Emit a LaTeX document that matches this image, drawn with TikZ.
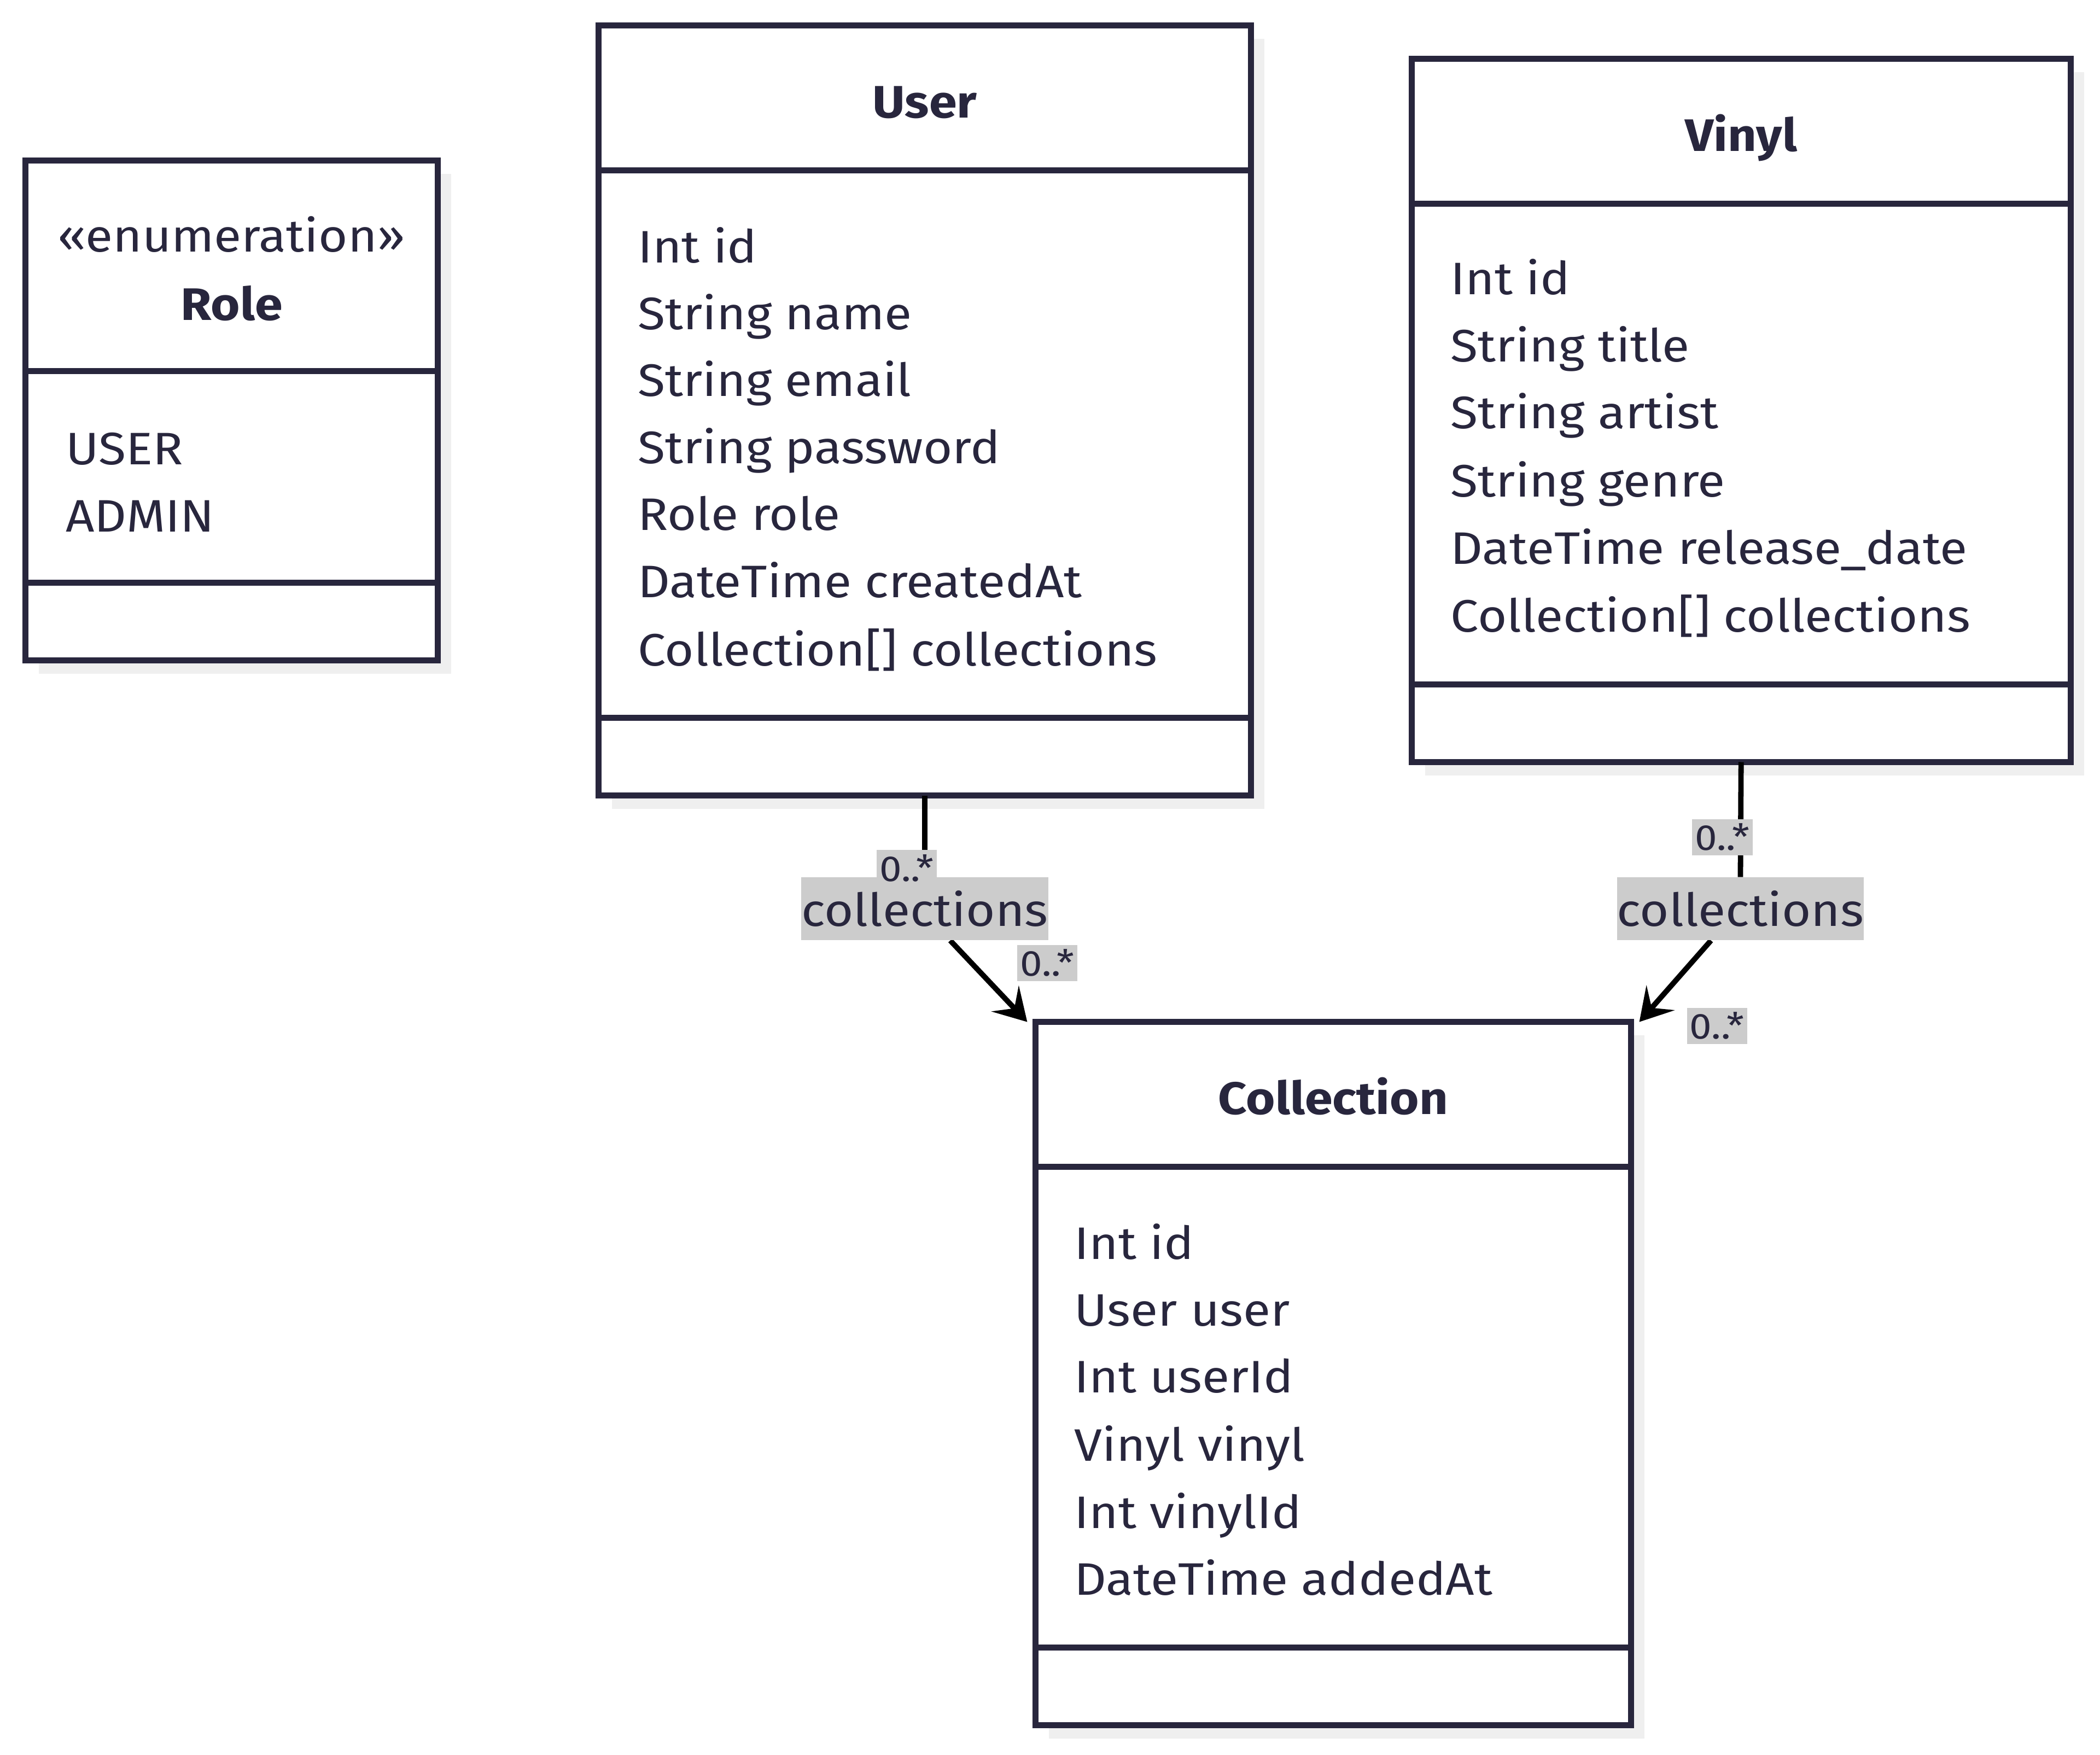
\documentclass[tikz,border=0pt]{standalone}
\usepackage{fontspec}
\setmainfont[FakeStretch=1.1]{Fira Sans}
\usetikzlibrary{arrows.meta,calc}
\definecolor{ink}{HTML}{28263D}
\definecolor{shadowc}{HTML}{EFEFEF}
\definecolor{lblbg}{HTML}{CCCCCC}
\begin{document}
\begin{tikzpicture}[x=1pt,y=-1pt,
  classbox/.style={draw=ink, line width=4.5pt, fill=white, inner sep=0pt, outer sep=0pt, rectangle},
  sep/.style={draw=ink, line width=4.5pt},
  attr/.style={anchor=base west, inner sep=0pt, text=ink, font=\fontsize{34}{40}\selectfont},
  ttl/.style={anchor=base, inner sep=0pt, text=ink, font=\fontsize{34}{40}\selectfont\bfseries},
  stereo/.style={anchor=base, inner sep=0pt, text=ink, font=\fontsize{34}{40}\selectfont},
  lbl/.style={fill=lblbg, text=ink, inner sep=0pt, minimum width=183pt, minimum height=47pt, font=\fontsize{34}{40}\selectfont},
  mult/.style={fill=lblbg, text=ink, inner sep=0pt, minimum width=45pt, minimum height=27pt, font=\fontsize{27}{30}\selectfont},
  conn/.style={draw=black, line width=4pt},
  arr/.style={-{Stealth[length=24pt,width=28pt,inset=10pt]}}]
\useasboundingbox (0,0) rectangle (1568,1310);
% shadows
\fill[shadowc] (29,130) rectangle (337,503);
\fill[shadowc] (457,29) rectangle (944,604);
\fill[shadowc] (1064,54) rectangle (1556,579);
\fill[shadowc] (783,773) rectangle (1228,1298);
% boxes
\node[classbox, minimum width=308pt, minimum height=373pt] (role) at (173,306.5) {};
\node[classbox, minimum width=487pt, minimum height=575pt] (user) at (690.5,306.5) {};
\node[classbox, minimum width=492pt, minimum height=525pt] (vinyl) at (1300,306.5) {};
\node[classbox, minimum width=445pt, minimum height=525pt] (coll) at (995.5,1025.5) {};
% dividers
\draw[sep] (role.west |- 0,277) -- (role.east |- 0,277);
\draw[sep] (role.west |- 0,435) -- (role.east |- 0,435);
\draw[sep] (user.west |- 0,127) -- (user.east |- 0,127);
\draw[sep] (user.west |- 0,536) -- (user.east |- 0,536);
\draw[sep] (vinyl.west |- 0,152) -- (vinyl.east |- 0,152);
\draw[sep] (vinyl.west |- 0,511) -- (vinyl.east |- 0,511);
\draw[sep] (coll.west |- 0,871) -- (coll.east |- 0,871);
\draw[sep] (coll.west |- 0,1230) -- (coll.east |- 0,1230);
% Role
\node[stereo] (rst) at (173,188) {«enumeration»};
\node[ttl] (rt) at (173,239) {Role};
\node[attr] (r1) at (49,347) {USER};
\node[attr] (r2) at (49,397) {ADMIN};
% User
\node[ttl] (ut) at (690.5,88) {User};
\node[attr] (u1) at (476,196) {Int id};
\node[attr] (u2) at (476,246) {String name};
\node[attr] (u3) at (476,296) {String email};
\node[attr] (u4) at (476,346) {String password};
\node[attr] (u5) at (476,396) {Role role};
\node[attr] (u6) at (476,446) {DateTime createdAt};
\node[attr] (u7) at (476,497) {Collection[] collections};
% Vinyl
\node[ttl] (vt) at (1300,113) {Vinyl};
\node[attr] (v1) at (1083,220) {Int id};
\node[attr] (v2) at (1083,270) {String title};
\node[attr] (v3) at (1083,320) {String artist};
\node[attr] (v4) at (1083,371) {String genre};
\node[attr] (v5) at (1083,421) {DateTime release\_date};
\node[attr] (v6) at (1083,472) {Collection[] collections};
% Collection
\node[ttl] (ct) at (995.5,832) {Collection};
\node[attr] (c1) at (802,940) {Int id};
\node[attr] (c2) at (802,990) {User user};
\node[attr] (c3) at (802,1040) {Int userId};
\node[attr] (c4) at (802,1091) {Vinyl vinyl};
\node[attr] (c5) at (802,1141) {Int vinylId};
\node[attr] (c6) at (802,1191) {DateTime addedAt};
% edge label positions
\coordinate (ucp) at (690.5,678.5);
\coordinate (vcp) at (1299.5,678.5);
\path (ucp) node[lbl] (ucoll) {collections};
\path (vcp) node[lbl] (vcoll) {collections};
% connectors
\draw[conn] (user.south) -- (ucoll.north);
\draw[conn,arr] ($(ucoll.south)+(19,0)$) -- ($(coll.north west)+(-6,0)$);
\draw[conn] (vinyl.south) -- (vcoll.north);
\draw[conn,arr] ($(vcoll.south)+(-22,0)$) -- ($(coll.north east)+(6,0)$);
\node[lbl] at (ucoll) {collections};
\node[lbl] at (vcoll) {collections};
\node[mult] (um1) at (677,648) {0..*};
\node[mult] (um2) at (782,719) {0..*};
\node[mult] (vm1) at (1286,625) {0..*};
\node[mult] (vm2) at (1282,766) {0..*};
\end{tikzpicture}
\end{document}
